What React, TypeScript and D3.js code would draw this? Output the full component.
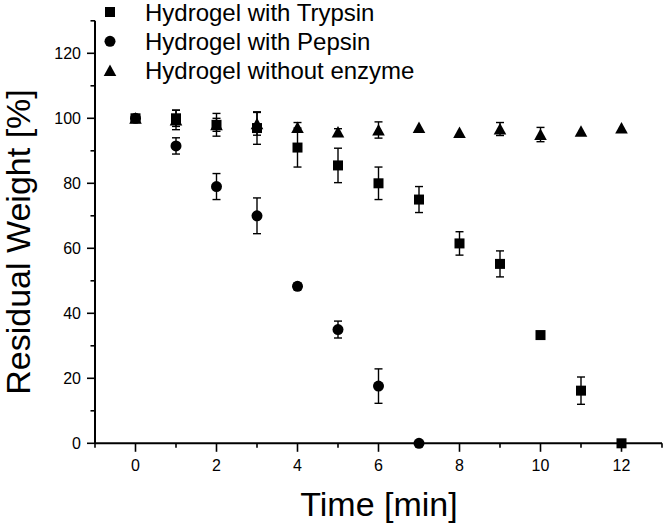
import React from "react";
import * as d3 from "d3";

const trypsinTimes = [0, 1, 2, 3, 4, 5, 6, 7, 8, 9, 10, 11, 12];
const trypsinValues = [100, 100, 98, 97, 91, 85.5, 80, 75, 61.5, 55.2, 33.3, 16.2, 0];
const trypsinErrors = [0.5, 2.5, 3.5, 5, 6, 5.3, 5, 4, 3.6, 4, 1, 4.2, 0];

const pepsinTimes = [0, 1, 2, 3, 4, 5, 6, 7];
const pepsinValues = [100, 91.5, 79, 70, 48.3, 35, 17.6, 0];
const pepsinErrors = [0.5, 2.5, 4, 5.5, 1, 2.6, 5.3, 0];

const noEnzymeTimes = [0, 1, 2, 3, 4, 5, 6, 7, 8, 9, 10, 11, 12];
const noEnzymeValues = [100, 99.5, 98, 98.3, 97.2, 95.8, 96.4, 97.2, 95.6, 96.7, 95, 96, 97];
const noEnzymeErrors = [0.5, 3, 2, 3.5, 1.5, 1, 2.5, 0.5, 0.5, 2, 2.2, 0.5, 0.5];

const seriesNames = ["Hydrogel with Trypsin", "Hydrogel with Pepsin", "Hydrogel without enzyme"];
const seriesShapes = ["square", "circle", "triangle"];

const xMajorTicks = [0, 2, 4, 6, 8, 10, 12];
const xMinorTicks = [-1, 1, 3, 5, 7, 9, 11, 13];
const yMajorTicks = [0, 20, 40, 60, 80, 100, 120];
const yMinorTicks = [10, 30, 50, 70, 90, 110, 130];

const xTitle = "Time [min]";
const yTitle = "Residual Weight [%]";

const FONT = "'Liberation Sans', Arial, Helvetica, sans-serif";

function Marker({ shape, cx, cy }: { shape: string; cx: number; cy: number }) {
  if (shape === "square") {
    return <rect x={cx - 5} y={cy - 5} width={10} height={10} fill="#000" />;
  }
  if (shape === "circle") {
    return <circle cx={cx} cy={cy} r={5.5} fill="#000" />;
  }
  const p = d3.path();
  p.moveTo(cx, cy - 6);
  p.lineTo(cx + 6.3, cy + 5.5);
  p.lineTo(cx - 6.3, cy + 5.5);
  p.closePath();
  return <path d={p.toString()} fill="#000" />;
}

export default function App() {
  const W = 666;
  const H = 529;
  const x = d3.scaleLinear().domain([-1, 13]).range([95, 662]);
  const y = d3.scaleLinear().domain([0, 130]).range([443.3, 20.8]);

  const series = [
    { t: trypsinTimes, v: trypsinValues, e: trypsinErrors, shape: seriesShapes[0] },
    { t: pepsinTimes, v: pepsinValues, e: pepsinErrors, shape: seriesShapes[1] },
    { t: noEnzymeTimes, v: noEnzymeValues, e: noEnzymeErrors, shape: seriesShapes[2] },
  ];

  const x0 = x(-1);
  const y0 = y(0);
  const capW = 4;

  return (
    <svg
      width={W}
      height={H}
      style={{ position: "absolute", left: 0, top: 0, background: "#fff" }}
      fontFamily={FONT}
    >
      <rect x={0} y={0} width={W} height={H} fill="#fff" />
      <line x1={x0} x2={x0} y1={y(130)} y2={y0} stroke="#000" strokeWidth={2} />
      <line x1={x0} x2={x(13)} y1={y0} y2={y0} stroke="#000" strokeWidth={2} />
      {yMajorTicks.map((v) => (
        <g key={"ym" + v}>
          <line x1={x0 - 8} x2={x0} y1={y(v)} y2={y(v)} stroke="#000" strokeWidth={1.6} />
          <text x={x0 - 14} y={y(v)} dy="0.36em" textAnchor="end" fontSize={16}>
            {v}
          </text>
        </g>
      ))}
      {yMinorTicks.map((v) => (
        <line key={"yn" + v} x1={x0 - 4.5} x2={x0} y1={y(v)} y2={y(v)} stroke="#000" strokeWidth={1.6} />
      ))}
      {xMajorTicks.map((t) => (
        <g key={"xm" + t}>
          <line x1={x(t)} x2={x(t)} y1={y0} y2={y0 + 8.5} stroke="#000" strokeWidth={1.6} />
          <text x={x(t)} y={471} textAnchor="middle" fontSize={16}>
            {t}
          </text>
        </g>
      ))}
      {xMinorTicks.map((t) => (
        <line key={"xn" + t} x1={x(t)} x2={x(t)} y1={y0} y2={y0 + 4.5} stroke="#000" strokeWidth={1.6} />
      ))}
      <text x={379} y={516} textAnchor="middle" fontSize={34}>
        {xTitle}
      </text>
      <text transform={`translate(30,242) rotate(-90)`} textAnchor="middle" fontSize={34}>
        {yTitle}
      </text>
      {series.map((s, si) => (
        <g key={"s" + si}>
          {s.t.map((t, i) => {
            const cx = x(t);
            const hi = y(s.v[i] + s.e[i]);
            const lo = y(s.v[i] - s.e[i]);
            return (
              <g key={i}>
                {s.e[i] > 0.6 && (
                  <g stroke="#000" strokeWidth={1.4}>
                    <line x1={cx} x2={cx} y1={hi} y2={lo} />
                    <line x1={cx - capW} x2={cx + capW} y1={hi} y2={hi} />
                    <line x1={cx - capW} x2={cx + capW} y1={lo} y2={lo} />
                  </g>
                )}
                <Marker shape={s.shape} cx={cx} cy={y(s.v[i])} />
              </g>
            );
          })}
        </g>
      ))}
      {seriesNames.map((name, i) => {
        const cy = 12 + i * 29.3;
        return (
          <g key={"lg" + i}>
            <Marker shape={seriesShapes[i]} cx={110} cy={cy} />
            <text x={145} y={cy + 8.5} fontSize={24}>
              {name}
            </text>
          </g>
        );
      })}
    </svg>
  );
}
